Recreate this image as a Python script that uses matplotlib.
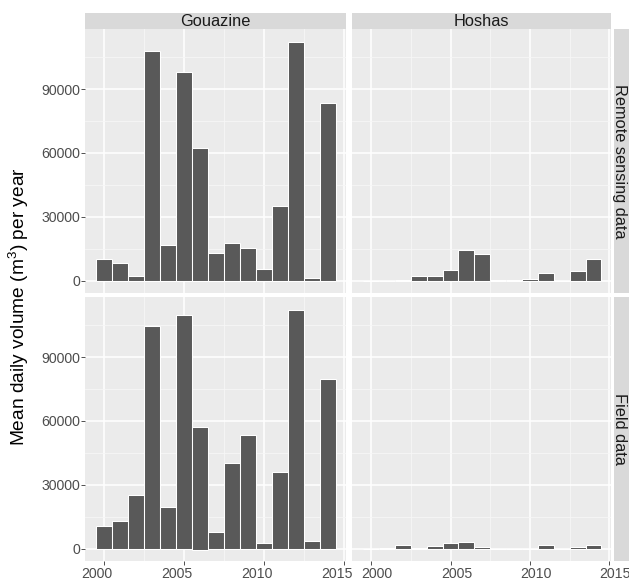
import matplotlib
matplotlib.use("Agg")
import matplotlib.pyplot as plt
from matplotlib.ticker import FixedLocator, FuncFormatter
from matplotlib.transforms import ScaledTranslation

plt.rcParams["font.family"] = ["Liberation Sans", "DejaVu Sans"]
plt.rcParams["mathtext.default"] = "regular"

years = list(range(2000, 2015))
sites = ["Gouazine", "Hoshas"]
sources = ["Remote sensing data", "Field data"]

# top of each bar, per (source, site)
gouazine_remote = [10300, 8400, 2300, 107800, 16900, 98000, 62300, 13100,
                   17800, 15200, 5600, 35200, 112000, 1400, 83400]
hoshas_remote = [0, 0, 500, 2300, 2300, 5200, 14500, 12700,
                 500, 500, 900, 3700, 0, 4700, 10300]
gouazine_field = [10600, 13100, 25200, 104500, 19500, 109700, 57200, 7800,
                  40200, 53300, 2700, 35900, 112300, 3600, 79500]
hoshas_field = [0, 300, 1600, 300, 1100, 2500, 3400, 600,
                0, 0, 0, 1600, 100, 600, 1600]
# negative parts stacked below zero
gouazine_field_neg = [0, 0, 0, 0, 0, 0, -600, 0, 0, 0, 0, 0, 0, 0, 0]
hoshas_field_neg = [0, -200, 0, -300, 0, -300, 0, 0, 0, 0, 0, -300, -300, 0, 0]
zeros = [0] * len(years)

panels = {
    ("Remote sensing data", "Gouazine"): (gouazine_remote, zeros),
    ("Remote sensing data", "Hoshas"): (hoshas_remote, zeros),
    ("Field data", "Gouazine"): (gouazine_field, gouazine_field_neg),
    ("Field data", "Hoshas"): (hoshas_field, hoshas_field_neg),
}

x_ticks = [2000, 2005, 2010, 2015]
y_ticks = [0, 30000, 60000, 90000]

W, H = 629, 580
fig = plt.figure(figsize=(W / 100, H / 100), dpi=100)


def px_axes(x0, y0, x1, y1):
    return fig.add_axes([x0 / W, 1 - y1 / H, (x1 - x0) / W, (y1 - y0) / H])


def strip(x0, y0, x1, y1, label, rotation=0, tx=0.5, ty=0.5):
    sax = px_axes(x0, y0, x1, y1)
    sax.set_facecolor("#D9D9D9")
    sax.set_xticks([])
    sax.set_yticks([])
    for s in sax.spines.values():
        s.set_visible(False)
    sax.text(tx, ty, label, ha="center", va="center", rotation=rotation,
             fontsize=11.8, color="#1A1A1A", transform=sax.transAxes)


col_x = [(85, 346), (352, 611)]
row_y = [(29, 292.5), (297, 560.7)]
# horizontal nudge of the year labels under each column, in pixels
label_shift = [-7.2, 6.0]

for r, source in enumerate(sources):
    for c, site in enumerate(sites):
        tops, bottoms = panels[(source, site)]
        x0, x1 = col_x[c]
        y0, y1 = row_y[r]
        ax = px_axes(x0, y0, x1, y1)
        ax.set_facecolor("#EBEBEB")
        heights = [t - b for t, b in zip(tops, bottoms)]
        ax.bar(years, heights, bottom=bottoms, width=1.0, color="#595959",
               edgecolor="white", linewidth=0.75, zorder=3)
        ax.set_xlim(1998.8, 2015.1)
        ax.set_ylim(-5600, 118200)
        ax.xaxis.set_major_locator(FixedLocator(x_ticks))
        ax.xaxis.set_minor_locator(FixedLocator([2002.5, 2007.5, 2012.5]))
        ax.yaxis.set_major_locator(FixedLocator(y_ticks))
        ax.yaxis.set_minor_locator(FixedLocator([15000, 45000, 75000, 105000]))
        ax.grid(which="major", color="white", linewidth=1.1, zorder=1)
        ax.grid(which="minor", color="#F7F7F7", linewidth=0.55, zorder=1)
        ax.set_axisbelow(True)
        for s in ax.spines.values():
            s.set_visible(False)
        ax.tick_params(which="minor", length=0)
        ax.tick_params(which="major", length=3.0, width=0.6, color="#333333",
                       labelsize=10.2, labelcolor="#4D4D4D")
        ax.tick_params(axis="x", pad=1.2)
        ax.tick_params(axis="y", pad=0.3)
        if r == 1:
            ax.xaxis.set_major_formatter(FuncFormatter(lambda v, p: f"{v:.0f}"))
            shift = ScaledTranslation(label_shift[c] / 100, 0, fig.dpi_scale_trans)
            for lab in ax.get_xticklabels():
                lab.set_transform(lab.get_transform() + shift)
        else:
            ax.tick_params(axis="x", which="major", length=0, labelbottom=False)
        if c == 0:
            ax.yaxis.set_major_formatter(FuncFormatter(lambda v, p: f"{v:.0f}"))
        else:
            ax.tick_params(axis="y", which="major", length=0, labelleft=False)

        if r == 0:
            strip(x0, 13, x1, 29, site)

    y0, y1 = row_y[r]
    strip(613.7, y0, 631, y1, source, rotation=-90, tx=0.36)

fig.text(18.5 / W, 1 - 307 / H, "Mean daily volume (m$^3$) per year",
         rotation=90, ha="center", va="center", fontsize=13.8, color="black")

fig.savefig("out.png", dpi=100)
